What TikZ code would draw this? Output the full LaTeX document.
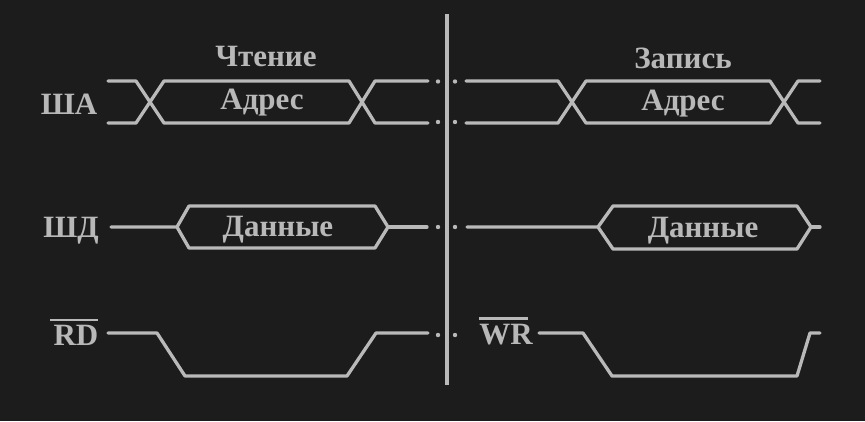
\documentclass[tikz,border=0pt]{standalone}
\usepackage{fontspec}
\setmainfont{Liberation Serif}
\definecolor{bgc}{HTML}{1C1C1C}
\definecolor{linec}{HTML}{B9B9B9}
\definecolor{textc}{HTML}{B8B8B8}
\tikzset{
  trace/.style={draw=linec,line width=3.3pt,line join=round,line cap=round},
  axisline/.style={draw=linec,line width=3.3pt},
  gapdot/.style={fill=linec,draw=none,circle,minimum size=4.4pt,inner sep=0pt},
  lbl/.style={text=textc,anchor=base,inner sep=0pt,font=\fontsize{31}{31}\selectfont\bfseries},
  sig/.style={text=textc,anchor=base,inner sep=0pt,font=\fontsize{31}{31}\selectfont\bfseries},
}
\begin{document}
\begin{tikzpicture}[x=1pt,y=-1pt]
\useasboundingbox (0,0) rectangle (865,421);
\fill[bgc] (0,0) rectangle (865,421);
\draw[axisline] (447,14) -- (447,385);
% labels
\node[lbl] (t1) at (266,66) {Чтение};
\node[lbl] (t2) at (683,68) {Запись};
\node[lbl] (a1) at (262,109) {Адрес};
\node[lbl] (a2) at (683,110) {Адрес};
\node[lbl] (d1) at (278,236) {Данные};
\node[lbl] (d2) at (703,237) {Данные};
\node[sig] (sa) at (69,114) {ША};
\node[sig] (sd) at (71,237) {ШД};
\node[sig] (rd) at (76,345) {RD};
\node[sig] (wr) at (506,344) {WR};
\draw[linec,line width=2.6pt] (50,320) -- (98,320);
\draw[linec,line width=2.6pt] (479,318.5) -- (528,318.5);
% left traces
\draw[trace] (108,81) -- (136,81) -- (164,123) -- (349,123) -- (375,81) -- (428,81);
\draw[trace] (108,123) -- (136,123) -- (164,81) -- (349,81) -- (375,123) -- (428,123);
\draw[trace] (111,227) -- (177,227) -- (189,206) -- (375,206) -- (388,227) -- (375,248) -- (189,248) -- (177,227);
\draw[trace] (388,227) -- (427,227);
\draw[trace] (108,333) -- (157,333) -- (185,376) -- (347,376) -- (376,333) -- (428,333);
% right traces
\draw[trace] (466,81) -- (558,81) -- (586,123) -- (770,123) -- (798,81) -- (820,81);
\draw[trace] (466,123) -- (558,123) -- (586,81) -- (770,81) -- (798,123) -- (820,123);
\draw[trace] (467,227) -- (598,227) -- (613,206) -- (797,206) -- (811,227) -- (797,249) -- (613,249) -- (598,227);
\draw[trace] (811,227) -- (820,227);
\draw[trace] (539,333) -- (583,333) -- (612,376) -- (797,376) -- (810,333) -- (820,333);
% gap dots
\foreach \yy/\nn in {81.5/a,122/b,227/c,335/d}{
  \node[gapdot] (dot\nn1) at (438,\yy) {};
  \node[gapdot] (dot\nn2) at (455,\yy) {};
}
\end{tikzpicture}
\end{document}
